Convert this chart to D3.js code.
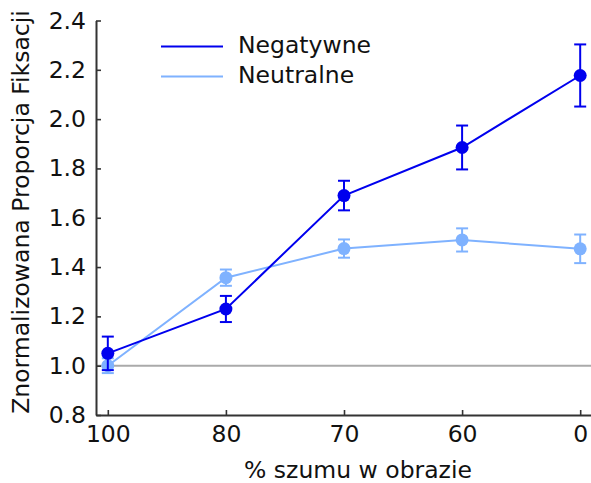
<!DOCTYPE html>
<html>
<head>
<meta charset="utf-8">
<script src="https://cdn.jsdelivr.net/npm/d3@7"></script>
<style>
  body { margin: 0; background: #fff; }
  text { font-family: "DejaVu Sans", sans-serif; fill: #111; }
</style>
</head>
<body>
<div id="chart"></div>
<script>
// Data
const levels = ["100", "80", "70", "60", "0"];
const negValues = [1.05, 1.23, 1.69, 1.885, 2.177];
const negErrors = [0.068, 0.053, 0.06, 0.089, 0.126];
const neuValues = [1.0, 1.357, 1.475, 1.51, 1.474];
const neuErrors = [0.03, 0.033, 0.037, 0.047, 0.058];
const yTicks = [0.8, 1.0, 1.2, 1.4, 1.6, 1.8, 2.0, 2.2, 2.4];
const seriesNames = ["Negatywne", "Neutralne"];
const seriesColors = ["#0000ee", "#7fb2ff"];

const W = 591, H = 483;
const FS = "23.5px";
const svg = d3.select("#chart").append("svg")
  .attr("width", W).attr("height", H);

const x = d3.scaleLinear().domain([-0.1, 4.1]).range([96, 592]);
const y = d3.scaleLinear().domain([0.8, 2.4]).range([415, 20.5]);

// reference line at 1.0
svg.append("line")
  .attr("x1", x(-0.1)).attr("x2", x(4.1))
  .attr("y1", y(1)).attr("y2", y(1))
  .attr("stroke", "#aaaaaa").attr("stroke-width", 2);

// axes
const yAxis = svg.append("g")
  .attr("transform", "translate(" + x(-0.1) + ",0)")
  .call(d3.axisLeft(y).tickValues(yTicks).tickFormat(d3.format(".1f"))
    .tickSizeInner(-5).tickSizeOuter(0).tickPadding(10));
const xAxis = svg.append("g")
  .attr("transform", "translate(0," + y(0.8) + ")")
  .call(d3.axisBottom(x).tickValues(d3.range(levels.length))
    .tickFormat(i => levels[i]).tickSizeInner(-5).tickSizeOuter(0).tickPadding(10));

[yAxis, xAxis].forEach(ax => {
  ax.select(".domain").attr("stroke", "#333").attr("stroke-width", 2);
  ax.selectAll(".tick line").attr("stroke", "#333").attr("stroke-width", 1.6);
  ax.selectAll(".tick text").style("font-size", FS).attr("fill", "#111");
});

// series
const series = [
  { name: seriesNames[0], color: seriesColors[0], vals: negValues, errs: negErrors, r: 6.5 },
  { name: seriesNames[1], color: seriesColors[1], vals: neuValues, errs: neuErrors, r: 6.5 }
];
const line = d3.line().x((d, i) => x(i)).y(d => y(d));

// draw Neutralne first, Negatywne on top
series.slice().reverse().forEach(s => {
  const g = svg.append("g");
  g.append("path").datum(s.vals)
    .attr("d", line).attr("fill", "none")
    .attr("stroke", s.color).attr("stroke-width", 2);
  const eb = g.selectAll(".eb").data(s.vals).enter().append("g");
  eb.append("line")
    .attr("x1", (d, i) => x(i)).attr("x2", (d, i) => x(i))
    .attr("y1", (d, i) => y(d - s.errs[i])).attr("y2", (d, i) => y(d + s.errs[i]))
    .attr("stroke", s.color).attr("stroke-width", 2);
  [-1, 1].forEach(sign => {
    eb.append("line")
      .attr("x1", (d, i) => x(i) - 6).attr("x2", (d, i) => x(i) + 6)
      .attr("y1", (d, i) => y(d + sign * s.errs[i])).attr("y2", (d, i) => y(d + sign * s.errs[i]))
      .attr("stroke", s.color).attr("stroke-width", 2);
  });
  eb.append("circle")
    .attr("cx", (d, i) => x(i)).attr("cy", d => y(d))
    .attr("r", s.r).attr("fill", s.color);
});

// legend
series.forEach((s, i) => {
  const ly = 46.5 + i * 30;
  svg.append("line").attr("x1", 161).attr("x2", 223)
    .attr("y1", ly).attr("y2", ly)
    .attr("stroke", s.color).attr("stroke-width", 2);
  svg.append("text").attr("x", 238).attr("y", ly + 6.5)
    .style("font-size", FS).text(s.name);
});

// axis titles
svg.append("text")
  .attr("x", 358).attr("y", 478)
  .attr("text-anchor", "middle").style("font-size", FS)
  .text("% szumu w obrazie");
svg.append("text")
  .attr("transform", "translate(29,212) rotate(-90)")
  .attr("text-anchor", "middle").style("font-size", FS)
  .text("Znormalizowana Proporcja Fiksacji");
</script>
</body>
</html>
